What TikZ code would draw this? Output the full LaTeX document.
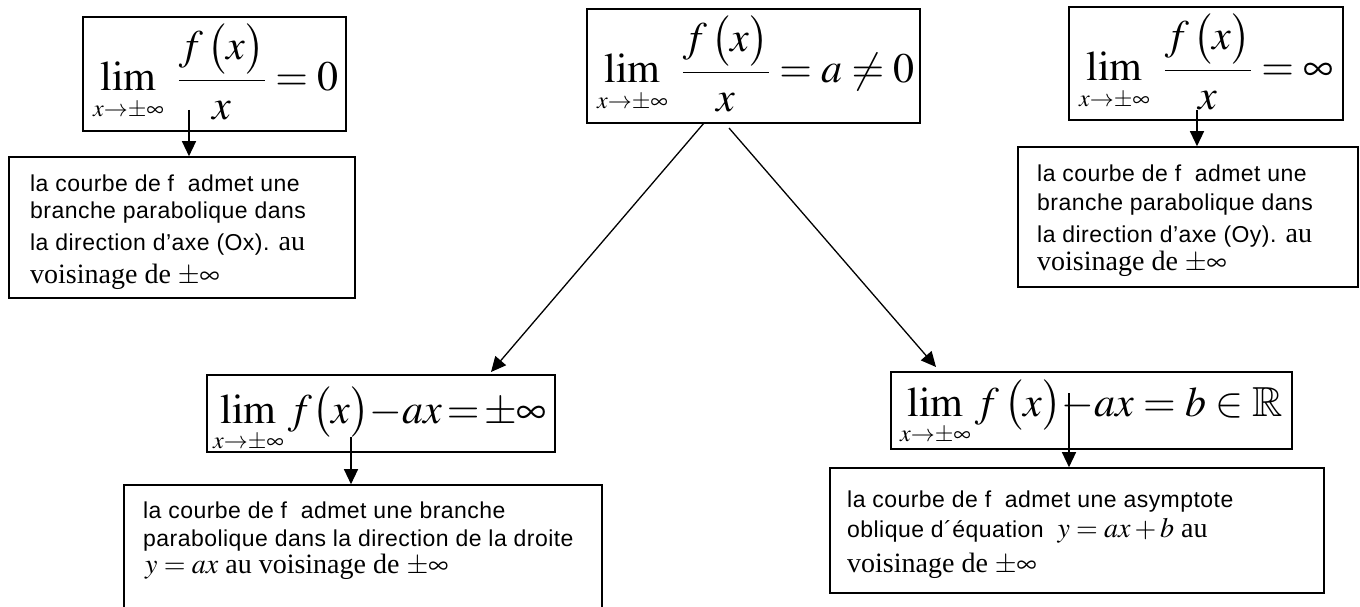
\documentclass[tikz,border=0pt]{standalone}
\usepackage[no-math]{fontspec}
\usepackage{amsmath}
\usepackage{mathptmx}
\usepackage{amssymb}
\setmainfont{Liberation Sans}[LetterSpace=2]
\newfontfamily\tnr{Liberation Serif}
\usetikzlibrary{arrows.meta}
\newcommand\fmsz{\fontsize{42}{50}\selectfont}
\newcommand\srf{\tnr\fontsize{28}{32}\selectfont}
\newcommand\limsub{\text{\fontsize{24}{28}\selectfont$x{\to}{\pm}\infty$}}
\newcommand\fx{f\,\bigl(x\bigr)}
\newcommand\fxt{f\bigl(x\bigr)}
\newcommand\dnm{\rule{0pt}{33pt}x}
\tikzset{
  box/.style={draw, line width=1.6pt, inner sep=0pt},
  fml/.style={anchor=base west, inner sep=0pt, font=\fmsz},
  txt/.style={anchor=base west, inner sep=0pt, font=\fontsize{23}{27}\selectfont},
  arr/.style={-{Triangle[length=15pt,width=14pt]}, line width=1.3pt},
}
\begin{document}
\begin{tikzpicture}[x=1pt, y=-1pt]
\useasboundingbox (0,0) rectangle (1360,607);
% formula boxes
\node[box, minimum width=263pt, minimum height=114pt] (f1) at (214.5,74) {};
\node[box, minimum width=333pt, minimum height=114pt] (f2) at (753.5,66) {};
\node[box, minimum width=274pt, minimum height=113pt] (f3) at (1206,63.5) {};
\node[box, minimum width=348pt, minimum height=77pt] (f4) at (381,413.5) {};
\node[box, minimum width=401pt, minimum height=77pt] (f5) at (1091.5,410.5) {};
% formulas
\node[fml] (f1m) at (93,91) {$\displaystyle\lim_{\limsub}\;\frac{\fx}{\dnm}=0$};
\node[fml] (f2m) at (597,83) {$\displaystyle\lim_{\limsub}\;\frac{\fx}{\dnm}=a\neq 0$};
\node[fml] (f3m) at (1079,81) {$\displaystyle\lim_{\limsub}\;\frac{\fx}{\dnm}=\infty$};
\node[fml] (f4m) at (213,423) {$\displaystyle\lim_{\limsub} \fxt{-}ax\mkern-2mu=\mkern-2mu\pm\infty$};
\node[fml] (f5m) at (900,416) {$\displaystyle\lim_{\limsub} \fx{-}ax=b\in\mathbb{R}$};
% text boxes
\node[box, minimum width=346pt, minimum height=141pt] (t1) at (182,227.5) {};
\node[box, minimum width=340pt, minimum height=140pt] (t3) at (1188,217) {};
\node[box, minimum width=478pt, minimum height=135pt] (t4) at (363,552.5) {};
\node[box, minimum width=494pt, minimum height=125pt] (t5) at (1077,530.5) {};
% texts
\node[txt] (t1a) at (30,191) {la courbe de f\ \ admet une};
\node[txt] (t1b) at (30,218) {branche parabolique dans};
\node[txt] (t1c) at (30,250) {la direction d’axe (Ox). {\srf au}};
\node[txt] (t1d) at (30,283) {\srf voisinage de $\pm\infty$};
\node[txt] (t3a) at (1037,182) {la courbe de f\ \ admet une};
\node[txt] (t3b) at (1037,210) {branche parabolique dans};
\node[txt] (t3c) at (1037,242) {la direction d’axe (Oy). {\srf au}};
\node[txt] (t3d) at (1037,270) {\srf voisinage de $\pm\infty$};
\node[txt] (t4a) at (143,518) {la courbe de f\ \ admet une branche};
\node[txt] (t4b) at (143,546) {parabolique dans la direction de la droite};
\node[txt] (t4c) at (145,573) {\srf $y=ax$ au voisinage de $\pm\infty$};
\node[txt] (t5a) at (847,507) {la courbe de f\ \ admet une asymptote};
\node[txt] (t5b) at (847,537) {oblique d´équation\ \ {\srf $y=ax+b$ au}};
\node[txt] (t5c) at (847,572) {\srf voisinage de $\pm\infty$};
% connectors
\coordinate (a1s) at (189,110);
\coordinate (a3s) at (1197,110);
\coordinate (a4s) at (351,437);
\coordinate (a5s) at (1069,393);
\draw[arr] (a1s) -- (a1s |- t1.north);
\draw[arr] (a3s) -- (a3s |- t3.north);
\draw[arr] (a4s) -- (a4s |- t4.north);
\draw[arr] (a5s) -- (a5s |- t5.north);
\coordinate (d1s) at (704,123);
\coordinate (d1e) at (491,372);
\coordinate (d2s) at (729,128);
\coordinate (d2e) at (936,367);
\draw[arr] (d1s) -- (d1e);
\draw[arr] (d2s) -- (d2e);
\end{tikzpicture}
\end{document}
